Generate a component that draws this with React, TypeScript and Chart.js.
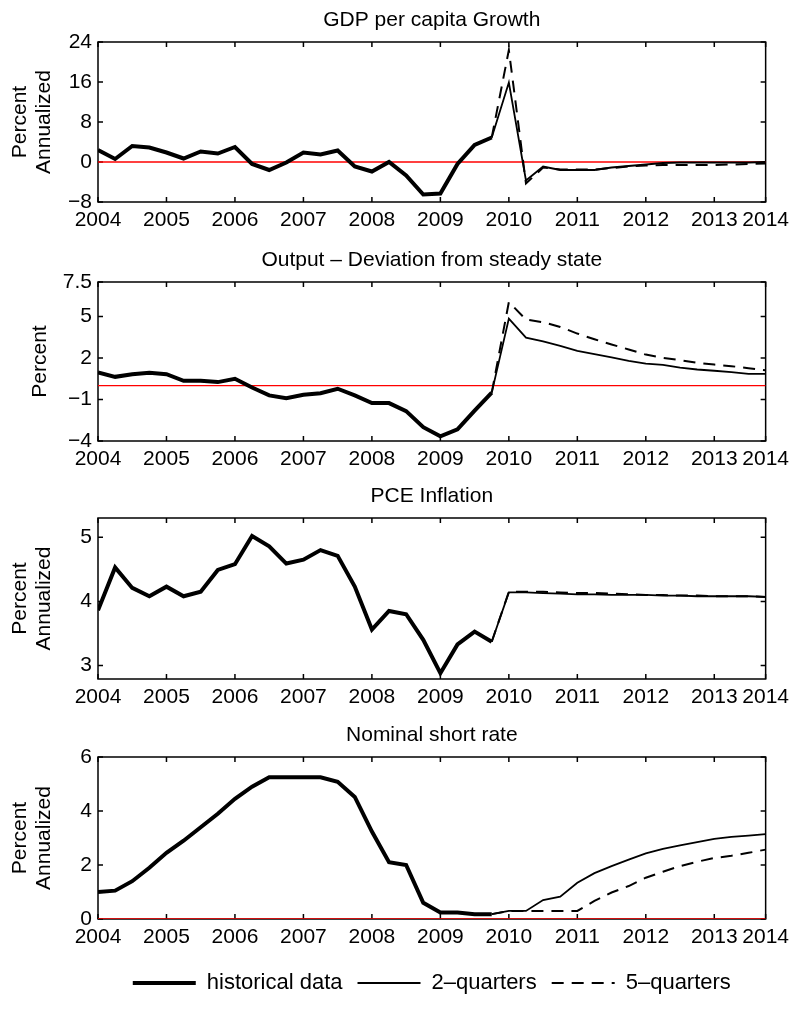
import React, { useEffect, useRef } from 'react';
import { Chart, registerables } from 'chart.js';
Chart.register(...registerables);

const FONT = '"Liberation Sans", Arial, Helvetica, sans-serif';

// quarter index: 0 = 2004Q1 ... 39 = 2013Q4
const xTickIndex = [0, 4, 8, 12, 16, 20, 24, 28, 32, 36, 39];
const xTickLabels = ['2004', '2005', '2006', '2007', '2008', '2009', '2010', '2011', '2012', '2013', '2014'];
const projStart = 23; // last historical quarter (2009Q4), projections start here

const seriesNames = ['historical data', '2–quarters', '5–quarters'];

// GDP per capita growth
const gdpHist = [2.4, 0.6, 3.2, 2.9, 1.9, 0.7, 2.1, 1.7, 3.0, -0.4, -1.6, -0.1, 1.9, 1.5, 2.3, -0.9, -1.9, 0.0, -2.7, -6.5, -6.3, -0.4, 3.4, 4.9];
const gdp2q = [15.9, -3.7, -0.9, -1.6, -1.6, -1.6, -1.1, -0.8, -0.5, -0.2, -0.1, -0.1, -0.1, -0.1, -0.1, 0.0];
const gdp5q = [22.4, -4.3, -1.1, -1.5, -1.5, -1.5, -1.2, -0.9, -0.7, -0.6, -0.6, -0.6, -0.6, -0.5, -0.4, -0.3];
const gdpTicks = [-8, 0, 8, 16, 24];

// Output deviation from steady state
const outHist = [0.95, 0.64, 0.83, 0.93, 0.83, 0.35, 0.35, 0.26, 0.5, -0.13, -0.7, -0.9, -0.66, -0.54, -0.22, -0.7, -1.26, -1.26, -1.84, -3.0, -3.66, -3.15, -1.8, -0.5];
const out2q = [4.85, 3.48, 3.21, 2.88, 2.52, 2.28, 2.04, 1.8, 1.6, 1.5, 1.3, 1.17, 1.08, 0.98, 0.86, 0.86];
const out5q = [6.05, 4.78, 4.59, 4.25, 3.77, 3.36, 2.98, 2.62, 2.25, 2.01, 1.85, 1.65, 1.53, 1.41, 1.27, 1.12];
const outTicks = [-4, -1, 2, 5, 7.5];

// PCE inflation
const pceHist = [3.86, 4.53, 4.21, 4.08, 4.23, 4.08, 4.15, 4.49, 4.58, 5.02, 4.86, 4.59, 4.65, 4.8, 4.71, 4.23, 3.56, 3.85, 3.8, 3.4, 2.88, 3.33, 3.53, 3.37];
const pce2q = [4.14, 4.14, 4.13, 4.12, 4.11, 4.11, 4.1, 4.1, 4.1, 4.09, 4.09, 4.08, 4.08, 4.08, 4.08, 4.07];
const pce5q = [4.15, 4.15, 4.15, 4.14, 4.13, 4.13, 4.12, 4.11, 4.1, 4.1, 4.09, 4.09, 4.08, 4.08, 4.08, 4.07];
const pceTicks = [3, 4, 5];

// Nominal short rate
const rateHist = [1.0, 1.05, 1.4, 1.9, 2.45, 2.9, 3.4, 3.9, 4.45, 4.9, 5.25, 5.25, 5.25, 5.25, 5.08, 4.52, 3.24, 2.1, 2.0, 0.6, 0.24, 0.24, 0.18, 0.18];
const rate2q = [0.3, 0.3, 0.7, 0.83, 1.34, 1.7, 1.96, 2.2, 2.43, 2.6, 2.73, 2.85, 2.97, 3.04, 3.09, 3.14];
const rate5q = [0.3, 0.3, 0.3, 0.3, 0.3, 0.67, 0.98, 1.22, 1.53, 1.75, 1.96, 2.12, 2.26, 2.34, 2.45, 2.57];
const rateTicks = [0, 2, 4, 6];

const fmt = (v: number) => String(v).replace('-', '\u2212');

const frame = {
  id: 'frame',
  beforeDatasetsDraw(chart: any) {
    const { ctx, chartArea: a, scales } = chart;
    const x = scales.x, y = scales.y;
    const L = 5;
    ctx.save();
    ctx.strokeStyle = '#000';
    ctx.lineWidth = 1.5;
    ctx.strokeRect(a.left, a.top, a.right - a.left, a.bottom - a.top);
    ctx.beginPath();
    x.ticks.forEach((t: any) => {
      const px = x.getPixelForValue(t.value);
      ctx.moveTo(px, a.bottom); ctx.lineTo(px, a.bottom - L);
      ctx.moveTo(px, a.top); ctx.lineTo(px, a.top + L);
    });
    y.ticks.forEach((t: any) => {
      const py = y.getPixelForValue(t.value);
      ctx.moveTo(a.left, py); ctx.lineTo(a.left + L, py);
      ctx.moveTo(a.right, py); ctx.lineTo(a.right - L, py);
    });
    ctx.stroke();
    ctx.restore();
  },
};

type PanelDef = {
  title: string;
  yTitle: string[];
  yTitlePad: number;
  hist: number[];
  p2: number[];
  p5: number[];
  yMin: number;
  yMax: number;
  yTicks: number[];
  top: number;
  chartH: number;
  legend?: boolean;
};

const panels: PanelDef[] = [
  { title: 'GDP per capita Growth', yTitle: ['Percent', 'Annualized'], yTitlePad: 8, hist: gdpHist, p2: gdp2q, p5: gdp5q, yMin: -8, yMax: 24, yTicks: gdpTicks, top: 42, chartH: 160 },
  { title: 'Output – Deviation from steady state', yTitle: ['Percent'], yTitlePad: 28, hist: outHist, p2: out2q, p5: out5q, yMin: -4, yMax: 7.5, yTicks: outTicks, top: 282, chartH: 159 },
  { title: 'PCE Inflation', yTitle: ['Percent', 'Annualized'], yTitlePad: 8, hist: pceHist, p2: pce2q, p5: pce5q, yMin: 2.79, yMax: 5.3, yTicks: pceTicks, top: 518, chartH: 161 },
  { title: 'Nominal short rate', yTitle: ['Percent', 'Annualized'], yTitlePad: 8, hist: rateHist, p2: rate2q, p5: rate5q, yMin: 0, yMax: 6, yTicks: rateTicks, top: 757, chartH: 162, legend: true },
];

const TOP_PAD = 42;
const X_H = 38;
const LEGEND_H = 47;

function Panel({ def }: { def: PanelDef }) {
  const ref = useRef<HTMLCanvasElement>(null);
  const height = TOP_PAD + def.chartH + X_H + (def.legend ? LEGEND_H : 0);
  useEffect(() => {
    const last = def.hist[def.hist.length - 1];
    const histPts = def.hist.map((v, i) => ({ x: i, y: v }));
    const p2Pts = [last, ...def.p2].map((v, i) => ({ x: projStart + i, y: v }));
    const p5Pts = [last, ...def.p5].map((v, i) => ({ x: projStart + i, y: v }));
    const zeroPts = [{ x: xTickIndex[0], y: 0 }, { x: xTickIndex[xTickIndex.length - 1], y: 0 }];
    const chart = new Chart(ref.current as HTMLCanvasElement, {
      type: 'line',
      data: {
        datasets: [
          { label: seriesNames[0], data: histPts, borderColor: '#000', backgroundColor: '#000', borderWidth: 4, pointRadius: 0 },
          { label: seriesNames[1], data: p2Pts, borderColor: '#000', backgroundColor: '#000', borderWidth: 1.8, pointRadius: 0 },
          { label: seriesNames[2], data: p5Pts, borderColor: '#000', backgroundColor: '#000', borderWidth: 2, borderDash: [12, 8], pointRadius: 0 },
          { label: 'zero', data: zeroPts, borderColor: '#ff0000', backgroundColor: '#ff0000', borderWidth: 1.3, pointRadius: 0 },
        ],
      },
      options: {
        responsive: false,
        animation: false,
        events: [],
        layout: { padding: { top: 8, left: 0, right: 28, bottom: 0 } },
        plugins: {
          tooltip: { enabled: false },
          title: {
            display: true,
            text: def.title,
            fullSize: false,
            color: '#000',
            font: { family: FONT, size: 21, weight: 'normal', lineHeight: 1.2 },
            padding: { top: 0, bottom: 8.8 },
          },
          legend: def.legend
            ? {
                display: true,
                position: 'bottom',
                fullSize: false,
                labels: {
                  usePointStyle: true,
                  pointStyle: 'line',
                  pointStyleWidth: 63,
                  padding: 15,
                  color: '#000',
                  font: { family: FONT, size: 22 },
                  generateLabels: (c: any) =>
                    c.data.datasets.slice(0, 3).map((ds: any, i: number) => ({
                      text: ds.label,
                      datasetIndex: i,
                      hidden: false,
                      lineWidth: ds.borderWidth,
                      lineDash: ds.borderDash || [],
                      strokeStyle: ds.borderColor,
                      fillStyle: ds.borderColor,
                      fontColor: '#000',
                      pointStyle: 'line',
                      rotation: 0,
                    })),
                },
              }
            : { display: false },
        },
        scales: {
          x: {
            type: 'linear',
            min: xTickIndex[0],
            max: xTickIndex[xTickIndex.length - 1],
            grid: { display: false, drawTicks: false },
            border: { display: false },
            afterBuildTicks: (s: any) => { s.ticks = xTickIndex.map((v) => ({ value: v })); },
            afterFit: (s: any) => { s.height = X_H; },
            ticks: {
              autoSkip: false,
              maxRotation: 0,
              minRotation: 0,
              padding: 6,
              color: '#000',
              font: { family: FONT, size: 21 },
              callback: (v: any) => xTickLabels[xTickIndex.indexOf(Number(v))] ?? '',
            },
          },
          y: {
            type: 'linear',
            min: def.yMin,
            max: def.yMax,
            grid: { display: false, drawTicks: false },
            border: { display: false },
            afterBuildTicks: (s: any) => { s.ticks = def.yTicks.map((v) => ({ value: v })); },
            afterFit: (s: any) => { s.width = 98; },
            ticks: {
              padding: 6,
              color: '#000',
              font: { family: FONT, size: 21 },
              callback: (v: any) => fmt(Number(v)),
            },
            title: {
              display: true,
              text: def.yTitle,
              color: '#000',
              font: { family: FONT, size: 21, lineHeight: 24 / 21 },
              padding: { top: def.yTitlePad, bottom: 0 },
            },
          },
        },
      },
      plugins: [frame],
    } as any);
    return () => chart.destroy();
  }, []);
  return (
    <canvas
      ref={ref}
      width={795}
      height={height}
      style={{ position: 'absolute', left: 0, top: def.top - TOP_PAD, width: 795, height }}
    />
  );
}

export default function App() {
  return (
    <div style={{ position: 'absolute', left: 0, top: 0, width: 795, height: 1010, background: '#fff' }}>
      {panels.map((p, i) => (
        <Panel key={i} def={p} />
      ))}
    </div>
  );
}
